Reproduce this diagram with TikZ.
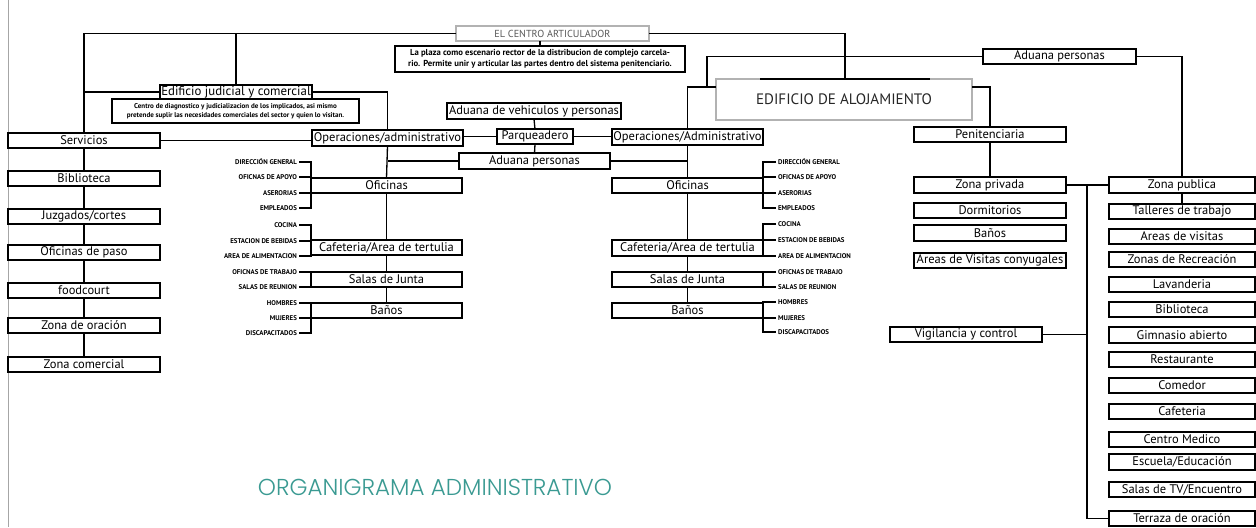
\documentclass[tikz,border=0pt]{standalone}
\usepackage{fontspec}
\setmainfont{PT Sans}
\newfontfamily\titlefont{Poppins Light}
\definecolor{tealt}{HTML}{3A9A92}
\newcommand\fb{\fontsize{7.1}{8}\selectfont}
\newcommand\fbig{\fontsize{7.3}{8}\selectfont}
\newcommand\flab{\fontsize{3.9}{4.5}\selectfont\bfseries}
\newcommand\fdesc{\fontsize{4.0}{5.1}\selectfont\bfseries}
\newcommand\fcdesc{\fontsize{4.95}{6.2}\selectfont\bfseries}
\tikzset{
  box/.style={draw=black, line width=0.8pt, fill=white, inner sep=0pt, outer sep=0pt, font=\fb},
  conn/.style={line width=0.75pt},
  thin conn/.style={line width=0.6pt},
  lab/.style={font=\flab, inner sep=1pt},
}
\newcommand\B[7][]{\node[box,minimum width={(#5-#3)*0.02cm},minimum height={(#6-#4)*0.02cm},#1] (#2) at ({(#3+#5)/2},{(#4+#6)/2}) {#7};}
\newcommand\LL[3]{\node[lab,anchor=east] (#1) at (299,#2) {#3};}
\newcommand\LR[3]{\node[lab,anchor=west] (#1) at (776,#2) {#3};}
\begin{document}
\begin{tikzpicture}[x=0.02cm,y=-0.02cm]
\useasboundingbox[fill=white] (0,0) rectangle (1256,527);
\draw[gray!70, line width=0.5pt] (8,0) -- (8,527);
% left column
\B{serv}{8}{133}{160}{148}{Servicios}
\B{bibL}{8}{171}{160}{186}{Biblioteca}
\B{juz}{8}{209}{160}{224}{Juzgados/cortes}
\B{ofp}{8}{245}{160}{260}{Oficinas de paso}
\B{food}{8}{283}{160}{298}{foodcourt}
\B{zor}{8}{318}{160}{333}{Zona de oración}
\B{zcom}{8}{357}{160}{372}{Zona comercial}
\B[font=\fbig]{edif}{160}{85}{312}{99}{Edificio judicial y comercial}
\B[font=\fdesc,align=center]{edesc}{112}{99}{359}{123}{Centro de diagnostico y judicializacion de los implicados, asi mismo\\pretende suplir las necesidades comerciales del sector y quien lo visitan.}
% centre
\B[draw=gray!60,line width=0.6pt,font=\fontsize{5.8}{6.5}\selectfont,text=gray!70!black]{centro}{456}{26}{649}{41}{EL CENTRO ARTICULADOR}
\B[font=\fcdesc,align=center]{cdesc}{395}{46}{685}{72}{La plaza como escenario rector de la distribucion de complejo carcela-\\rio. Permite unir y articular las partes dentro del sistema penitenciario.}
\B{aduV}{447}{103}{621}{119}{Aduana de vehiculos y personas}
\B{parq}{497}{129}{573}{144}{Parqueadero}
\B{opsL}{312}{130}{463}{146}{Operaciones/administrativo}
\B{opsR}{612}{129}{763}{145}{Operaciones/Administrativo}
\B{adC}{459}{153}{610}{169}{Aduana personas}
\B{ofiL}{311}{178}{462}{193}{Oficinas}
\B{cafL}{311}{240}{462}{255}{Cafeteria/Area de tertulia}
\B{salL}{311}{272}{462}{287}{Salas de Junta}
\B{banL}{311}{303}{462}{318}{Baños}
\B{ofiR}{612}{178}{763}{193}{Oficinas}
\B{cafR}{612}{240}{763}{256}{Cafeteria/Area de tertulia}
\B{salR}{612}{272}{763}{287}{Salas de Junta}
\B{banR}{612}{303}{763}{318}{Baños}
% right part
\B[draw=gray!60,line width=0.6pt,font=\fontsize{8.6}{9}\selectfont,text=black!85]{alo}{716}{79}{972}{120}{EDIFICIO DE ALOJAMIENTO}
\B{adR}{983}{49}{1136}{64}{Aduana personas}
\B{pen}{914}{127}{1066}{142}{Penitenciaria}
\B{zpriv}{914}{177}{1066}{193}{Zona privada}
\B{dorm}{914}{203}{1066}{218}{Dormitorios}
\B{banP}{914}{225}{1066}{241}{Baños}
\B{avc}{914}{253}{1066}{268}{Areas de Visitas conyugales}
\B{vig}{890}{327}{1042}{342}{Vigilancia y control}
\B{zpub}{1109}{177}{1255}{193}{Zona publica}
\B{tall}{1109}{204}{1255}{219}{Talleres de trabajo}
\B{avis}{1109}{229}{1255}{244}{Areas de visitas}
\B{zrec}{1109}{252}{1255}{267}{Zonas de Recreación}
\B{lav}{1109}{277}{1255}{292}{Lavanderia}
\B{bibR}{1109}{302}{1255}{317}{Biblioteca}
\B{gim}{1109}{327}{1255}{343}{Gimnasio abierto}
\B{rest}{1109}{352}{1255}{367}{Restaurante}
\B{com}{1109}{378}{1255}{393}{Comedor}
\B{cafP}{1109}{404}{1255}{419}{Cafeteria}
\B{cmed}{1109}{432}{1255}{447}{Centro Medico}
\B{esc}{1109}{454}{1255}{470}{Escuela/Educación}
\B{stv}{1109}{482}{1255}{497}{Salas de TV/Encuentro}
\B{terr}{1109}{511}{1255}{526}{Terraza de oración}
% labels left
\LL{la1}{162}{DIRECCIÓN GENERAL}
\LL{la2}{177}{OFICNAS DE APOYO}
\LL{la3}{193}{ASERORIAS}
\LL{la4}{208}{EMPLEADOS}
\LL{lb1}{225}{COCINA}
\LL{lb2}{241}{ESTACION DE BEBIDAS}
\LL{lb3}{256}{AREA DE ALIMENTACION}
\LL{lc1}{272}{OFICNAS DE TRABAJO}
\LL{lc2}{287}{SALAS DE REUNION}
\LL{ld1}{303}{HOMBRES}
\LL{ld2}{318}{MUJERES}
\LL{ld3}{333}{DISCAPACITADOS}
% labels right
\LR{ra1}{162}{DIRECCIÓN GENERAL}
\LR{ra2}{177}{OFICNAS DE APOYO}
\LR{ra3}{193}{ASERORIAS}
\LR{ra4}{208}{EMPLEADOS}
\LR{rb1}{224}{COCINA}
\LR{rb2}{240}{ESTACION DE BEBIDAS}
\LR{rb3}{256}{AREA DE ALIMENTACION}
\LR{rc1}{272}{OFICNAS DE TRABAJO}
\LR{rc2}{287}{SALAS DE REUNION}
\LR{rd1}{302}{HOMBRES}
\LR{rd2}{318}{MUJERES}
\LR{rd3}{332}{DISCAPACITADOS}
% title
\node[font=\titlefont\fontsize{13.1}{14}\selectfont, text=tealt, inner sep=0pt] (title) at (435,487) {ORGANIGRAMA ADMINISTRATIVO};
% connectors: top
\draw[conn] (centro.west) -| (serv.north);
\draw[conn] (edif.north) -- (edif.north |- centro.west);
\draw[conn] (edif.west) -- (edif.west -| serv.north);
\draw[conn] (edif.east) -| (opsL.north);
\draw[conn] (serv.east) -- (serv.east -| opsL.west);
\foreach \a/\b in {serv/bibL,bibL/juz,juz/ofp,ofp/food,food/zor,zor/zcom}
  \draw[conn] (\a.south) -- (\b.north);
\draw[conn] (cdesc.north) -- (cdesc.north |- centro.south);
\coordinate (aloT) at (845,79);
\coordinate (aloTL) at (760,79);
\coordinate (aloTR) at (930,79);
\coordinate (j1) at (707,87);
\draw[conn] (centro.east) -| (aloT);
\draw[conn] (aloTL) -- (aloTR);
\draw[conn] (adR.west) -| (j1);
\draw[conn] (alo.west |- j1) -- (opsR.north |- j1) -- (opsR.north);
\draw[conn] (alo.east |- j1) -| (pen.north);
\draw[conn] (pen.south) -- (zpriv.north);
\draw[conn] (adR.east) -| (zpub.north);
\draw[conn] (zpriv.east) -- (zpub.west);
\coordinate (tr) at (1087,185);
\draw[conn] (tr) |- (terr.west);
\draw[conn] (vig.east) -- (vig.east -| tr);
\draw[conn] (zpub.south) -- (tall.north);
% centre connectors
\draw[conn] (aduV.south) -- (parq.north);
\draw[conn] (parq.south) -- (adC.north);
\draw[conn] (parq.west -| opsL.east) -- (parq.west);
\draw[conn] (parq.east) -- (parq.east -| opsR.west);
\draw[conn] (opsL.south) -- (ofiL.north);
\draw[conn] (adC.west) -- (adC.west -| opsL.south);
\draw[conn] (adC.east) -- (adC.east -| opsR.south);
\draw[conn] (opsR.south) -- (ofiR.north);
\foreach \a/\b in {ofiL/cafL,cafL/salL,salL/banL,ofiR/cafR,cafR/salR,salR/banR}
  \draw[conn] (\a.south) -- (\b.north);
% brackets left
\draw[thin conn] (la1.east) -- (la1.east -| ofiL.west) -- (la4.east -| ofiL.west) -- (la4.east);
\foreach \l in {la2,la3} \draw[thin conn] (\l.east) -- (\l.east -| ofiL.west);
\draw[thin conn] (lb1.east) -- (lb1.east -| cafL.west) -- (lb3.east -| cafL.west) -- (lb3.east);
\draw[thin conn] (lb2.east) -- (lb2.east -| cafL.west);
\draw[thin conn] (lc1.east) -- (lc1.east -| salL.west) -- (lc2.east -| salL.west) -- (lc2.east);
\draw[thin conn] (ld1.east) -- (ld1.east -| banL.west) -- (ld3.east -| banL.west) -- (ld3.east);
\draw[thin conn] (ld2.east) -- (ld2.east -| banL.west);
% brackets right
\draw[thin conn] (ra1.west) -- (ra1.west -| ofiR.east) -- (ra4.west -| ofiR.east) -- (ra4.west);
\foreach \l in {ra2,ra3} \draw[thin conn] (\l.west) -- (\l.west -| ofiR.east);
\draw[thin conn] (rb1.west) -- (rb1.west -| cafR.east) -- (rb3.west -| cafR.east) -- (rb3.west);
\draw[thin conn] (rb2.west) -- (rb2.west -| cafR.east);
\draw[thin conn] (rc1.west) -- (rc1.west -| salR.east) -- (rc2.west -| salR.east) -- (rc2.west);
\draw[thin conn] (rd1.west) -- (rd1.west -| banR.east) -- (rd3.west -| banR.east) -- (rd3.west);
\draw[thin conn] (rd2.west) -- (rd2.west -| banR.east);
\end{tikzpicture}
\end{document}
